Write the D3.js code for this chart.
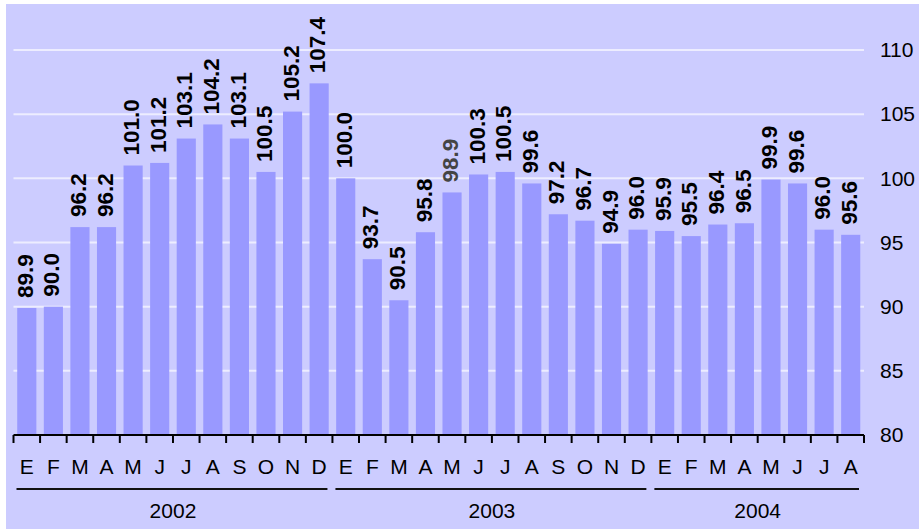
<!DOCTYPE html>
<html>
<head>
<meta charset="utf-8">
<script src="https://cdn.jsdelivr.net/npm/d3@7"></script>
<style>
  body { margin: 0; background: #fff; }
  svg { display: block; font-family: Arial, "Liberation Sans", sans-serif; }
</style>
</head>
<body>
<div id="chart"></div>
<script>
// monthly index, bars with vertical value labels, right-hand axis

const months = ['E', 'F', 'M', 'A', 'M', 'J', 'J', 'A', 'S', 'O', 'N', 'D',
  'E', 'F', 'M', 'A', 'M', 'J', 'J', 'A', 'S', 'O', 'N', 'D',
  'E', 'F', 'M', 'A', 'M', 'J', 'J', 'A'];
const years = ['2002', '2003', '2004'];
const monthsPerYear = [12, 12, 8];
const values = [89.9, 90.0, 96.2, 96.2, 101.0, 101.2, 103.1, 104.2, 103.1, 100.5, 105.2, 107.4,
  100.0, 93.7, 90.5, 95.8, 98.9, 100.3, 100.5, 99.6, 97.2, 96.7, 94.9, 96.0,
  95.9, 95.5, 96.4, 96.5, 99.9, 99.6, 96.0, 95.6];
const yTicks = [80, 85, 90, 95, 100, 105, 110];

const W = 919, H = 529;
const plotLeft = 13.5, plotRight = 864, plotBottom = 435, plotTop = 50;

const svg = d3.select('#chart').append('svg')
  .attr('width', W)
  .attr('height', H);

svg.append('rect')
  .attr('x', 6).attr('y', 4)
  .attr('width', W - 6).attr('height', H - 4)
  .attr('fill', '#ccccff');

const idx = d3.range(values.length);

const x = d3.scaleBand()
  .domain(idx)
  .range([plotLeft, plotRight])
  .paddingInner(0.28)
  .paddingOuter(0.14);

const y = d3.scaleLinear()
  .domain([80, 110])
  .range([plotBottom, plotTop]);

const step = x.step();
const edge = i => plotLeft + i * step;

// gridlines
svg.append('g')
  .selectAll('line')
  .data(yTicks.filter(t => t > 80))
  .enter()
  .append('line')
  .attr('x1', plotLeft).attr('x2', plotRight)
  .attr('y1', d => y(d)).attr('y2', d => y(d))
  .attr('stroke', '#ededff')
  .attr('stroke-width', 2);

// bars
svg.append('g')
  .selectAll('rect')
  .data(values)
  .enter()
  .append('rect')
  .attr('x', (d, i) => x(i))
  .attr('width', x.bandwidth())
  .attr('y', d => y(d))
  .attr('height', d => y(80) - y(d))
  .attr('fill', '#9999ff');

// value labels, rotated, a little above each bar
svg.append('g')
  .selectAll('text')
  .data(values)
  .enter()
  .append('text')
  .attr('transform', (d, i) => `translate(${x(i) + x.bandwidth() / 2 - 2},${y(d) - 10}) rotate(-90)`)
  .attr('dy', '0.36em')
  .attr('font-size', 22.5)
  .attr('font-weight', 'bold')
  .attr('fill', (d, i) => i === 16 ? '#444' : '#000')
  .text(d => d.toFixed(1));

// right axis labels
const yAxis = d3.axisRight(y)
  .tickValues(yTicks)
  .tickSize(0)
  .tickPadding(0);
const ya = svg.append('g')
  .attr('transform', `translate(880,0)`)
  .call(yAxis);
ya.select('.domain').remove();
ya.selectAll('text')
  .attr('font-size', 21)
  .attr('font-family', 'Arial, "Liberation Sans", sans-serif')
  .attr('fill', '#000');

// x axis line + ticks at band edges
svg.append('line')
  .attr('x1', plotLeft).attr('x2', plotRight)
  .attr('y1', plotBottom).attr('y2', plotBottom)
  .attr('stroke', '#000')
  .attr('stroke-width', 2);
svg.append('g')
  .selectAll('line')
  .data(d3.range(values.length + 1))
  .enter()
  .append('line')
  .attr('x1', edge).attr('x2', edge)
  .attr('y1', plotBottom).attr('y2', plotBottom + 8)
  .attr('stroke', '#000')
  .attr('stroke-width', 2);

// month letters
svg.append('g')
  .selectAll('text')
  .data(months)
  .enter()
  .append('text')
  .attr('x', (d, i) => x(i) + x.bandwidth() / 2)
  .attr('y', 474)
  .attr('text-anchor', 'middle')
  .attr('font-size', 21)
  .text(d => d);

// year groups
let start = 0;
const groups = years.map((yr, k) => {
  const g = { year: yr, from: start, to: start + monthsPerYear[k] };
  start += monthsPerYear[k];
  return g;
});

svg.append('g')
  .selectAll('line')
  .data(groups)
  .enter()
  .append('line')
  .attr('x1', d => edge(d.from) + 3)
  .attr('x2', d => edge(d.to) - 5)
  .attr('y1', 489).attr('y2', 489)
  .attr('stroke', '#111')
  .attr('stroke-width', 2);

svg.append('g')
  .selectAll('text')
  .data(groups)
  .enter()
  .append('text')
  .attr('x', d => (edge(d.from) + edge(d.to)) / 2)
  .attr('y', 518)
  .attr('text-anchor', 'middle')
  .attr('font-size', 21)
  .text(d => d.year);
</script>
</body>
</html>
